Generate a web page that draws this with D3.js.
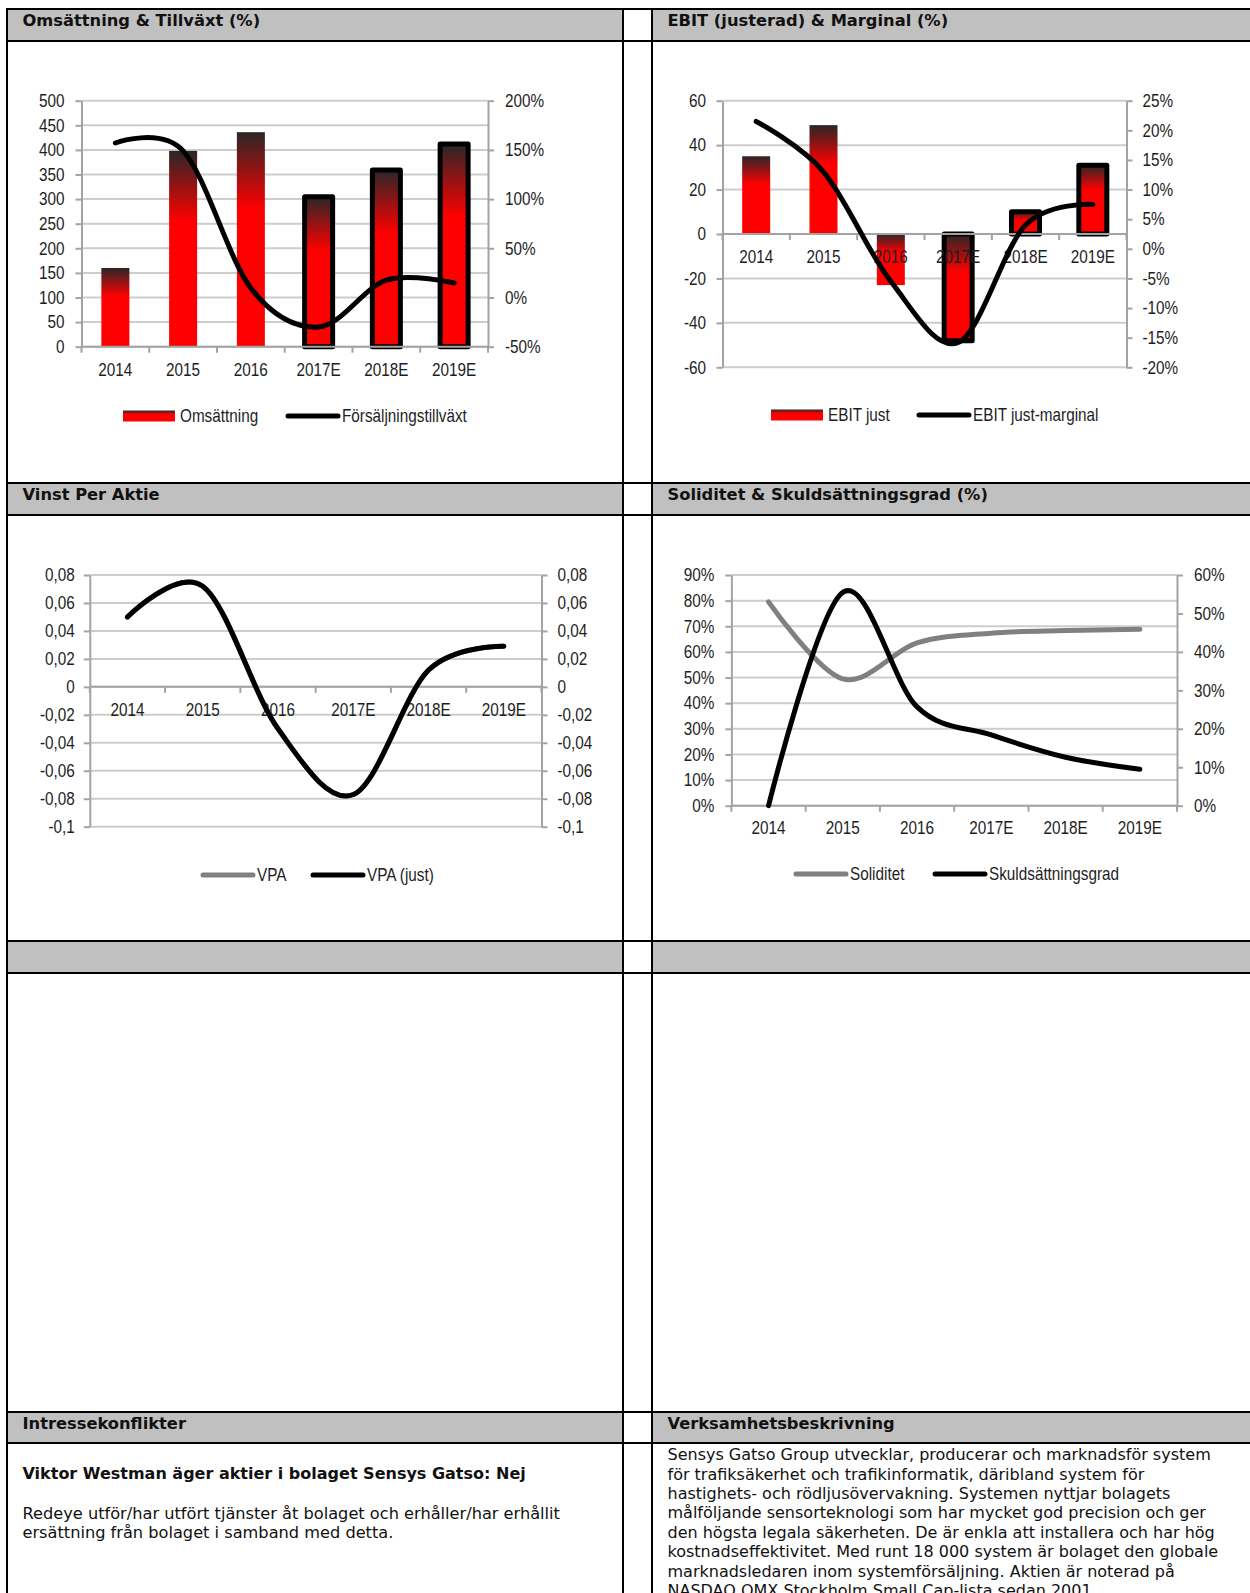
<!DOCTYPE html>
<html>
<head>
<meta charset="utf-8">
<script src="https://cdn.jsdelivr.net/npm/d3@7"></script>
<style>
  html, body { margin: 0; padding: 0; background: #fff; }
  svg { display: block; }
  .tick text, .cat, .leg { font-family: "Liberation Sans", Arial, sans-serif; font-size: 18px; fill: #1e1e1e; }
  .hdr { font-family: "DejaVu Sans", Verdana, sans-serif; font-weight: bold; font-size: 16.3px; fill: #111; }
  .body { font-family: "DejaVu Sans", Verdana, sans-serif; font-size: 16px; fill: #111; }
</style>
</head>
<body>
<svg id="page" width="1250" height="1593"></svg>
<script>
// ---- data ----
const years = ["2014", "2015", "2016", "2017E", "2018E", "2019E"];
const estimated = [false, false, false, true, true, true];

const omsattning = [160, 398, 436, 305, 359, 412];
const forsaljningstillvaxt = [157, 149, 9.5, -30, 17.7, 14.8];      // %

const ebitJust = [35, 49, -23, -48, 10, 31];
const ebitMarginal = [21.5, 13, -5.5, -15.8, 4, 7.5];              // %

const vpa = [0.05, 0.072, -0.03, -0.077, 0.012, 0.029];
const vpaJust = [0.05, 0.072, -0.03, -0.077, 0.012, 0.029];

const soliditet = [79.5, 49.5, 63.5, 67.3, 68.3, 68.8];            // %
const skuldsattningsgrad = [0, 55.5, 25.7, 18.4, 12.6, 9.5];       // %

// tick values
const ticksOms = [0, 50, 100, 150, 200, 250, 300, 350, 400, 450, 500];
const ticksTillvaxt = [-50, 0, 50, 100, 150, 200];
const ticksEbit = [-60, -40, -20, 0, 20, 40, 60];
const ticksMarginal = [-20, -15, -10, -5, 0, 5, 10, 15, 20, 25];
const ticksVpa = [-0.1, -0.08, -0.06, -0.04, -0.02, 0, 0.02, 0.04, 0.06, 0.08];
const ticksSoliditet = [0, 10, 20, 30, 40, 50, 60, 70, 80, 90];
const ticksSkuld = [0, 10, 20, 30, 40, 50, 60];

const titles = ["Omsättning & Tillväxt (%)", "EBIT (justerad) & Marginal (%)",
                "Vinst Per Aktie", "Soliditet & Skuldsättningsgrad (%)",
                "", "", "Intressekonflikter", "Verksamhetsbeskrivning"];

const disclosureBold = "Viktor Westman äger aktier i bolaget Sensys Gatso: Nej";
const disclosureLines = ["Redeye utför/har utfört tjänster åt bolaget och erhåller/har erhållit",
                         "ersättning från bolaget i samband med detta."];
const descriptionLines = [
  "Sensys Gatso Group utvecklar, producerar och marknadsför system",
  "för trafiksäkerhet och trafikinformatik, däribland system för",
  "hastighets- och rödljusövervakning. Systemen nyttjar bolagets",
  "målföljande sensorteknologi som har mycket god precision och ger",
  "den högsta legala säkerheten. De är enkla att installera och har hög",
  "kostnadseffektivitet. Med runt 18 000 system är bolaget den globale",
  "marknadsledaren inom systemförsäljning. Aktien är noterad på",
  "NASDAQ OMX Stockholm Small Cap-lista sedan 2001."
];

// ---- page frame ----
const svg = d3.select("#page");
const defs = svg.append("defs");
const grad = defs.append("linearGradient").attr("id", "barGrad")
  .attr("x1", 0).attr("y1", 0).attr("x2", 0).attr("y2", 1);
grad.append("stop").attr("offset", 0).attr("stop-color", "#2b2626");
grad.append("stop").attr("offset", 0.36).attr("stop-color", "#ff0000");
grad.append("stop").attr("offset", 1).attr("stop-color", "#ff0000");

const colL = [7, 623], colR = [652, 1250];
const headerRows = [[9, 41], [483, 515], [941, 973], [1412, 1443]];

headerRows.forEach(([t, b], i) => {
  [colL, colR].forEach((c, j) => {
    svg.append("rect").attr("x", c[0]).attr("y", t).attr("width", c[1] - c[0]).attr("height", b - t)
      .attr("fill", "#c0c0c0");
    const title = titles[i * 2 + j];
    if (title) svg.append("text").attr("class", "hdr")
      .attr("x", c[0] + 15.5).attr("y", t + 11.3).attr("dy", "0.35em").text(title);
  });
  [t, b].forEach(y => svg.append("line").attr("x1", colL[0] - 1).attr("x2", 1250)
    .attr("y1", y).attr("y2", y).attr("stroke", "#000").attr("stroke-width", 2));
});
[7, 623, 652].forEach(x => svg.append("line").attr("x1", x).attr("x2", x)
  .attr("y1", 8).attr("y2", 1593).attr("stroke", "#000").attr("stroke-width", 2));

// ---- chart helper ----
const pct = d => d + "%";
const comma = d => String(d).replace(".", ",");
const plain = d => String(d);

// condensed look for chart labels: squeeze glyphs horizontally around their anchor
const SQUEEZE = 0.85;
function narrow(sel) {
  sel.each(function () {
    const t = d3.select(this);
    const x = +t.attr("x") || 0;
    t.attr("x", 0).attr("transform", `translate(${x},0) scale(${SQUEEZE},1)`);
  });
}

function chart(cfg) {
  const g = svg.append("g");
  const x = d3.scaleBand().domain(years).range([cfg.x0, cfg.x1]);
  const yL = d3.scaleLinear().domain(cfg.domL).range([cfg.yb, cfg.yt]);
  const yR = d3.scaleLinear().domain(cfg.domR).range([cfg.yb, cfg.yt]);
  const cx = d => x(d) + x.bandwidth() / 2;

  // gridlines
  g.selectAll(".grid").data(cfg.ticksL).join("line")
    .attr("x1", cfg.x0).attr("x2", cfg.x1)
    .attr("y1", d => yL(d)).attr("y2", d => yL(d))
    .attr("stroke", "#cdcdcd").attr("stroke-width", 2);

  // value axes
  const ax = g.append("g").attr("transform", `translate(${cfg.x0},0)`)
    .call(d3.axisLeft(yL).tickValues(cfg.ticksL).tickFormat(cfg.fmtL)
      .tickSize(6).tickPadding(cfg.padL).tickSizeOuter(0));
  const axR = g.append("g").attr("transform", `translate(${cfg.x1},0)`)
    .call(d3.axisRight(yR).tickValues(cfg.ticksR).tickFormat(cfg.fmtR)
      .tickSize(6).tickPadding(cfg.padR).tickSizeOuter(0));
  [ax, axR].forEach(a => {
    a.select(".domain").attr("stroke", "#a3a3a3").attr("stroke-width", 2);
    a.selectAll(".tick line").attr("stroke", "#a3a3a3").attr("stroke-width", 2);
    a.selectAll(".tick text").attr("fill", "#1e1e1e").attr("font-size", null).attr("font-family", null)
      .call(narrow);
  });

  // bars
  if (cfg.bars) {
    const bw = 28;
    const y0 = yL(0);
    g.selectAll(".bar").data(years).join("rect")
      .attr("x", d => cx(d) - bw / 2)
      .attr("y", (d, i) => Math.min(yL(cfg.bars[i]), y0))
      .attr("width", bw)
      .attr("height", (d, i) => Math.abs(yL(cfg.bars[i]) - y0))
      .attr("fill", "url(#barGrad)")
      .attr("stroke", (d, i) => estimated[i] ? "#000" : "none")
      .attr("stroke-width", 5).attr("stroke-linejoin", "round");
  }

  // category axis
  const ya = yL(cfg.baseAt);
  g.append("line").attr("x1", cfg.x0).attr("x2", cfg.x1).attr("y1", ya).attr("y2", ya)
    .attr("stroke", "#a3a3a3").attr("stroke-width", 2);
  g.selectAll(".ctick").data(years.concat([null])).join("line")
    .attr("x1", d => d === null ? cfg.x1 : x(d)).attr("x2", d => d === null ? cfg.x1 : x(d))
    .attr("y1", ya).attr("y2", ya + 6)
    .attr("stroke", "#a3a3a3").attr("stroke-width", 2);
  g.selectAll(".cat").data(years).join("text").attr("class", "cat")
    .attr("x", d => cx(d)).attr("y", cfg.catY).attr("dy", "0.35em")
    .attr("text-anchor", "middle").text(d => d).call(narrow);

  // lines
  cfg.lines.forEach(L => {
    const sc = L.axis === "R" ? yR : yL;
    g.append("path").datum(L.values)
      .attr("d", d3.line().x((v, i) => cx(years[i])).y(v => sc(v)).curve(d3.curveCardinal.tension(0)))
      .attr("fill", "none").attr("stroke", L.color).attr("stroke-width", 5)
      .attr("stroke-linecap", "round").attr("stroke-linejoin", "round");
  });

  // legend
  cfg.legend.forEach(it => {
    if (it.type === "bar") {
      g.append("rect").attr("x", it.x).attr("y", cfg.legY - 5.5).attr("width", 52).attr("height", 11)
        .attr("fill", "url(#barGrad)");
      g.append("text").attr("class", "leg").attr("x", it.x + 57).attr("y", cfg.legY)
        .attr("dy", "0.35em").text(it.label).call(narrow);
    } else {
      g.append("line").attr("x1", it.x + 2).attr("x2", it.x + 52).attr("y1", cfg.legY).attr("y2", cfg.legY)
        .attr("stroke", it.color).attr("stroke-width", 5).attr("stroke-linecap", "round");
      g.append("text").attr("class", "leg").attr("x", it.x + 56).attr("y", cfg.legY)
        .attr("dy", "0.35em").text(it.label).call(narrow);
    }
  });
}

chart({
  x0: 81.5, x1: 488, yt: 100.7, yb: 346.7,
  domL: [0, 500], domR: [-50, 200],
  ticksL: ticksOms, ticksR: ticksTillvaxt, fmtL: plain, fmtR: pct,
  padL: 11, padR: 11, baseAt: 0, catY: 370,
  bars: omsattning,
  lines: [{ values: forsaljningstillvaxt, axis: "R", color: "#000" }],
  legY: 416,
  legend: [{ type: "bar", x: 123, label: "Omsättning" },
           { type: "line", x: 286, color: "#000", label: "Försäljningstillväxt" }]
});

chart({
  x0: 722.5, x1: 1126.5, yt: 100.7, yb: 367.3,
  domL: [-60, 60], domR: [-20, 25],
  ticksL: ticksEbit, ticksR: ticksMarginal, fmtL: plain, fmtR: pct,
  padL: 10.5, padR: 10, baseAt: 0, catY: 257,
  bars: ebitJust,
  lines: [{ values: ebitMarginal, axis: "R", color: "#000" }],
  legY: 415,
  legend: [{ type: "bar", x: 771, label: "EBIT just" },
           { type: "line", x: 917, color: "#000", label: "EBIT just-marginal" }]
});

chart({
  x0: 89.8, x1: 541.5, yt: 575, yb: 826.7,
  domL: [-0.1, 0.08], domR: [-0.1, 0.08],
  ticksL: ticksVpa, ticksR: ticksVpa, fmtL: comma, fmtR: comma,
  padL: 9, padR: 10, baseAt: 0, catY: 710,
  bars: null,
  lines: [{ values: vpa, axis: "L", color: "#808080" },
          { values: vpaJust, axis: "L", color: "#000" }],
  legY: 875,
  legend: [{ type: "line", x: 201, color: "#808080", label: "VPA" },
           { type: "line", x: 311, color: "#000", label: "VPA (just)" }]
});

chart({
  x0: 731.4, x1: 1177, yt: 575, yb: 805.7,
  domL: [0, 90], domR: [0, 60],
  ticksL: ticksSoliditet, ticksR: ticksSkuld, fmtL: pct, fmtR: pct,
  padL: 11, padR: 11, baseAt: 0, catY: 828,
  bars: null,
  lines: [{ values: soliditet, axis: "L", color: "#808080" },
          { values: skuldsattningsgrad, axis: "R", color: "#000" }],
  legY: 874,
  legend: [{ type: "line", x: 794, color: "#808080", label: "Soliditet" },
           { type: "line", x: 933, color: "#000", label: "Skuldsättningsgrad" }]
});

// ---- text sections ----
svg.append("text").attr("class", "hdr").attr("x", 22.5).attr("y", 1473).attr("dy", "0.35em")
  .style("font-size", "16px").text(disclosureBold);
disclosureLines.forEach((t, i) => svg.append("text").attr("class", "body")
  .attr("x", 22.5).attr("y", 1513 + i * 19).attr("dy", "0.35em").style("font-size", "16.2px").text(t));
descriptionLines.forEach((t, i) => svg.append("text").attr("class", "body")
  .attr("x", 667.5).attr("y", 1454.5 + i * 19.4).attr("dy", "0.35em").text(t));
</script>
</body>
</html>
